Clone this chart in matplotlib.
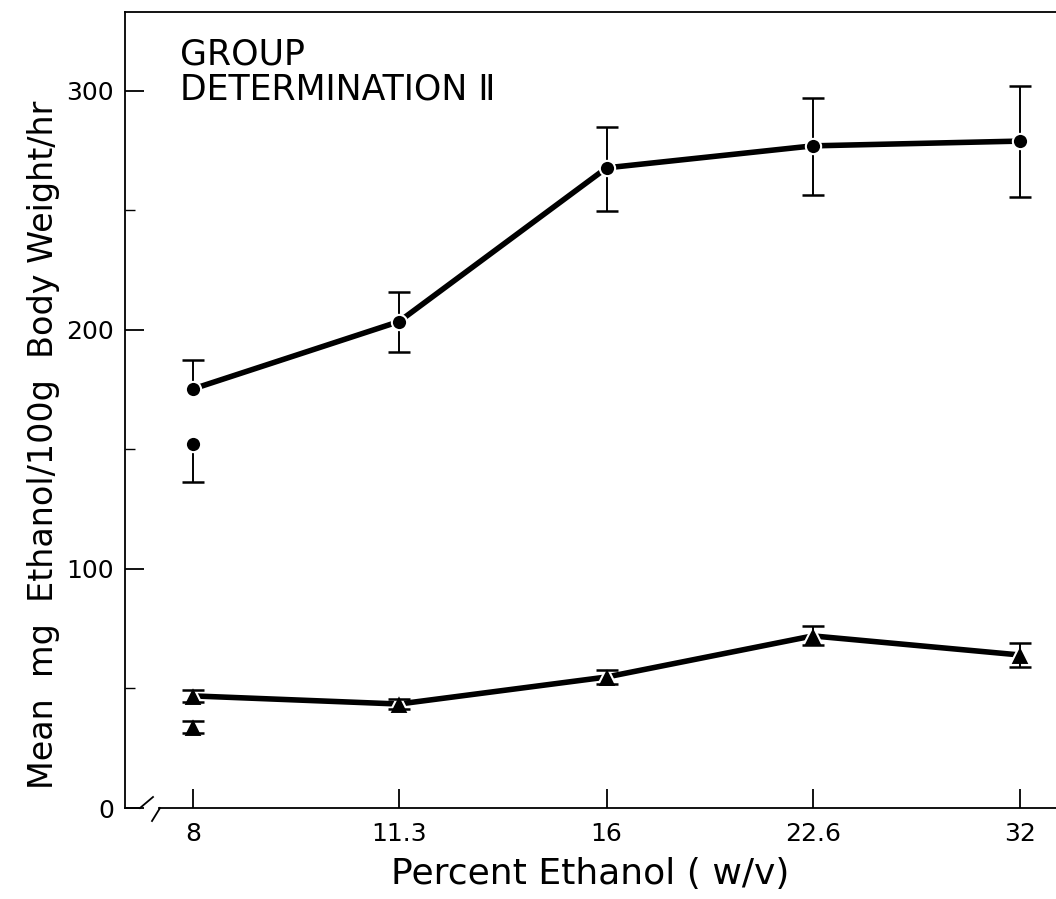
import matplotlib
matplotlib.use("Agg")
import matplotlib.pyplot as plt
from matplotlib.ticker import FixedLocator, NullFormatter

plt.rcParams['font.family'] = ['DejaVu Sans']

# Percent ethanol concentrations (log2 spaced)
conc = [8, 11.3, 16, 22.6, 32]
conc_labels = ['8', '11.3', '16', '22.6', '32']

# Upper series (circles), connected
circ_mean = [175.3, 203.5, 267.8, 277.0, 279.0]
circ_err_lo = [0, 12.8, 18.0, 20.5, 23.5]
circ_err_hi = [12.0, 12.5, 17.0, 20.0, 23.0]

# Extra circle at 8% (not connected)
circ_extra_mean = [152.3]
circ_extra_lo = [16.0]
circ_extra_hi = [0]

# Lower series (triangles), connected
tri_mean = [46.9, 43.5, 54.8, 72.0, 64.0]
tri_err = [2.5, 2.0, 2.8, 4.0, 5.2]

# Extra triangle at 8% (not connected)
tri_extra_mean = [33.9]
tri_extra_err = [2.5]


def draw_errors(ax, xs, ys, lo, hi, zorder=1):
    # one-sided bars get a cap only on the side that has a bar
    for x, y, l, h in zip(xs, ys, lo, hi):
        ax.vlines(x, y - l, y + h, color='black', linewidth=1.4, zorder=zorder)
        if l > 0:
            ax.plot(x, y - l, marker='_', color='black', markersize=16,
                    markeredgewidth=1.8, zorder=zorder)
        if h > 0:
            ax.plot(x, y + h, marker='_', color='black', markersize=16,
                    markeredgewidth=1.8, zorder=zorder)


fig = plt.figure(figsize=(10.56, 8.99), dpi=100)
ax = fig.add_axes([125/1056, 91/899, 931/1056, 796/899])

ax.set_xscale('log', base=2)
ax.set_xlim(7.14, 33.97)
ax.set_ylim(0, 333)

line_kw = dict(color='black', linewidth=4.0, solid_capstyle='round')
mk_kw = dict(color='black', markeredgecolor='white', markeredgewidth=1.5,
             linestyle='none', zorder=3)

# circles
ax.plot(conc, circ_mean, zorder=2, **line_kw)
draw_errors(ax, conc, circ_mean, circ_err_lo, circ_err_hi)
draw_errors(ax, conc[:1], circ_extra_mean, circ_extra_lo, circ_extra_hi)
ax.plot(conc, circ_mean, 'o', markersize=11, **mk_kw)
ax.plot(conc[:1], circ_extra_mean, 'o', markersize=11, **mk_kw)

# triangles
ax.plot(conc, tri_mean, zorder=2, **line_kw)
ax.plot(conc, tri_mean, '^', markersize=14, **mk_kw)
ax.plot(conc[:1], tri_extra_mean, '^', markersize=14, **mk_kw)
draw_errors(ax, conc, tri_mean, tri_err, tri_err, zorder=4)
draw_errors(ax, conc[:1], tri_extra_mean, tri_extra_err, tri_extra_err, zorder=4)

# ticks
ax.xaxis.set_major_locator(FixedLocator(conc))
ax.xaxis.set_minor_locator(FixedLocator([]))
ax.set_xticklabels(conc_labels)
ax.xaxis.set_minor_formatter(NullFormatter())
ax.set_yticks([0, 100, 200, 300])
ax.set_yticks([50, 150, 250], minor=True)
ax.tick_params(axis='both', which='major', direction='in', length=14, width=1.3,
               labelsize=18, pad=8)
ax.tick_params(axis='y', which='minor', direction='in', length=7, width=1.0)
ax.tick_params(axis='x', which='major', pad=10)
ax.tick_params(top=False, right=False)

# spines
ax.spines['right'].set_visible(False)
ax.spines['bottom'].set_visible(False)
for s in ['left', 'top']:
    ax.spines[s].set_linewidth(1.3)

# bottom axis with break
bk = dict(color='black', linewidth=1.3, transform=ax.transAxes, clip_on=False)
ax.plot([0, 15/931], [0, 0], **bk)
ax.plot([15/931, 28/931], [0, 11/796], **bk)
ax.plot([27/931, 35/931], [-13/796, 0], **bk)
ax.plot([34/931, 1], [0, 0], **bk)

ax.set_xlabel('Percent Ethanol ( w/v)', fontsize=26, labelpad=8)
ax.set_ylabel('Mean  mg  Ethanol/100g  Body Weight/hr', fontsize=24)
ax.yaxis.set_label_coords(-0.070, 0.456)

ax.text(0.059, 0.968, 'GROUP\nDETERMINATION Ⅱ', transform=ax.transAxes,
        fontsize=25, va='top', ha='left', linespacing=1.05)

fig.savefig('out.png', dpi=100)
